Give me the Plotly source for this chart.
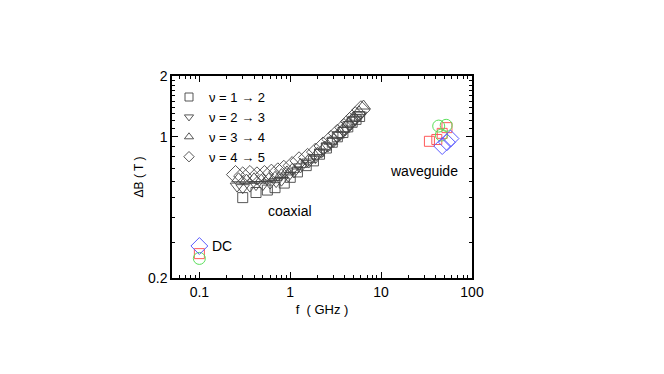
import plotly.graph_objects as go

# ---- data ----
f_sq = [0.3, 0.42, 0.56, 0.68, 0.86, 1.0, 1.2, 1.5, 1.8, 2.1, 2.5, 2.9, 3.3, 3.8, 4.3, 4.8, 5.3, 5.8]
b_sq = [0.50, 0.53, 0.545, 0.56, 0.59, 0.63, 0.67, 0.72, 0.76, 0.82, 0.88, 0.94, 1.00, 1.05, 1.12, 1.18, 1.22, 1.26]

f_td = [0.26, 0.3, 0.36, 0.42, 0.5, 0.6, 0.7, 0.8, 0.95, 1.1, 1.3, 1.6, 1.9, 2.2, 2.6, 3.0, 3.5, 4.0, 4.6, 5.2, 5.8]
b_td = [0.57, 0.56, 0.57, 0.58, 0.58, 0.59, 0.60, 0.61, 0.64, 0.67, 0.71, 0.75, 0.79, 0.84, 0.90, 0.95, 1.02, 1.08, 1.15, 1.22, 1.28]

f_tu = [0.27, 0.33, 0.4, 0.48, 0.58, 0.68, 0.8, 0.92, 1.05, 1.3, 1.6, 2.0, 2.4, 2.8, 3.3, 3.8, 4.4, 5.0, 5.7, 6.4]
b_tu = [0.62, 0.61, 0.62, 0.61, 0.62, 0.63, 0.65, 0.67, 0.69, 0.73, 0.77, 0.83, 0.89, 0.95, 1.02, 1.09, 1.17, 1.25, 1.33, 1.42]

f_di = [0.25, 0.3, 0.36, 0.43, 0.52, 0.62, 0.73, 0.85, 1.05, 1.25, 1.55, 1.9, 2.3, 2.8, 3.3, 3.9, 4.5, 5.2, 6.0]
b_di = [0.65, 0.64, 0.65, 0.64, 0.65, 0.66, 0.67, 0.69, 0.72, 0.76, 0.79, 0.84, 0.90, 0.97, 1.04, 1.11, 1.19, 1.27, 1.36]

# waveguide + DC (coloured)
f_red = [0.1, 34, 41, 47, 53]
b_red = [0.264, 0.95, 0.97, 1.04, 1.11]
f_green = [0.1, 43, 52, 46]
b_green = [0.25, 1.13, 1.14, 1.02]
f_blue = [0.1, 47, 53, 58]
b_blue = [0.288, 0.90, 0.94, 0.98]

legend_names = ["ν = 1 → 2", "ν = 2 → 3", "ν = 3 → 4", "ν = 4 → 5"]

x_ticks = [0.1, 1, 10, 100]
x_ticklabels = ["0.1", "1", "10", "100"]
x_minor = [0.06, 0.07, 0.08, 0.09, 0.2, 0.3, 0.4, 0.5, 0.6, 0.7, 0.8, 0.9,
           2, 3, 4, 5, 6, 7, 8, 9, 20, 30, 40, 50, 60, 70, 80, 90]
y_ticks = [0.2, 1, 2]
y_ticklabels = ["0.2", "1", "2"]
y_minor = [0.3, 0.4, 0.5, 0.6, 0.7, 0.8, 0.9, 1.1, 1.2, 1.3, 1.4, 1.5, 1.6, 1.7, 1.8, 1.9]

ink = "#444444"
fig = go.Figure()
series = [(f_sq, b_sq, "square-open", 10), (f_td, b_td, "triangle-down-open", 12),
          (f_tu, b_tu, "triangle-up-open", 12), (f_di, b_di, "diamond-open", 14)]
for (fx, by, sym, sz), name in zip(series, legend_names):
    fig.add_trace(go.Scatter(x=fx, y=by, mode="markers", name=name, showlegend=False,
                             marker=dict(symbol=sym, size=sz, color=ink,
                                         line=dict(width=0.9, color=ink))))
# legend-only entries with smaller symbols
for (fx, by, sym, sz), name in zip(series, legend_names):
    fig.add_trace(go.Scatter(x=[None], y=[None], mode="markers", name=name,
                             marker=dict(symbol=sym, size=8, color=ink,
                                         line=dict(width=0.9, color=ink))))

for fx, by, sym, sz, col in [(f_red, b_red, "square-open", 10, "#ff5a5a"),
                             (f_green, b_green, "circle-open", 12, "#5ae05a"),
                             (f_blue, b_blue, "diamond-open", 13, "#5a5aff")]:
    fig.add_trace(go.Scatter(x=fx, y=by, mode="markers", showlegend=False,
                             marker=dict(symbol=sym, size=sz, color=col,
                                         line=dict(width=1, color=col))))

font = "Liberation Sans, Arial, sans-serif"
axis_common = dict(type="log", showgrid=False, zeroline=False, showline=True,
                   linecolor="black", linewidth=1.5, mirror="allticks",
                   ticks="inside", ticklen=6, tickwidth=1, tickcolor="black",
                   tickfont=dict(size=14, color="black", family=font))

fig.update_xaxes(range=[-1.301, 2], tickvals=x_ticks, ticktext=x_ticklabels,
                 minor=dict(tickvals=x_minor, ticks="inside", ticklen=3, tickcolor="black"),
                 title=dict(text="f  ( GHz )", font=dict(size=13, color="black", family=font), standoff=6),
                 **axis_common)
fig.update_yaxes(range=[-0.699, 0.301], tickvals=y_ticks, ticktext=y_ticklabels,
                 minor=dict(tickvals=y_minor, ticks="inside", ticklen=3, tickcolor="black"),
                 title=dict(text="ΔB ( T )", font=dict(size=12, color="black", family=font), standoff=2),
                 **axis_common)

fig.add_annotation(x=0, y=-0.367, xref="x", yref="y", text="coaxial", showarrow=False,
                   font=dict(size=14, color="black", family=font))
fig.add_annotation(x=1.47, y=-0.169, xref="x", yref="y", text="waveguide", showarrow=False,
                   font=dict(size=14, color="black", family=font))
fig.add_annotation(x=-0.88, y=-0.541, xref="x", yref="y", text="DC", showarrow=False,
                   xanchor="left", font=dict(size=14, color="black", family=font))

fig.update_layout(
    width=664, height=374,
    margin=dict(l=164, r=200, t=68, b=104),
    paper_bgcolor="white", plot_bgcolor="white",
    font=dict(family=font, color="black"),
    legend=dict(x=-0.01, y=0.97, xanchor="left", yanchor="top",
                bgcolor="rgba(0,0,0,0)", font=dict(size=13, color="black", family=font),
                itemsizing="trace", itemwidth=30),
)

fig.write_html("out.html")
